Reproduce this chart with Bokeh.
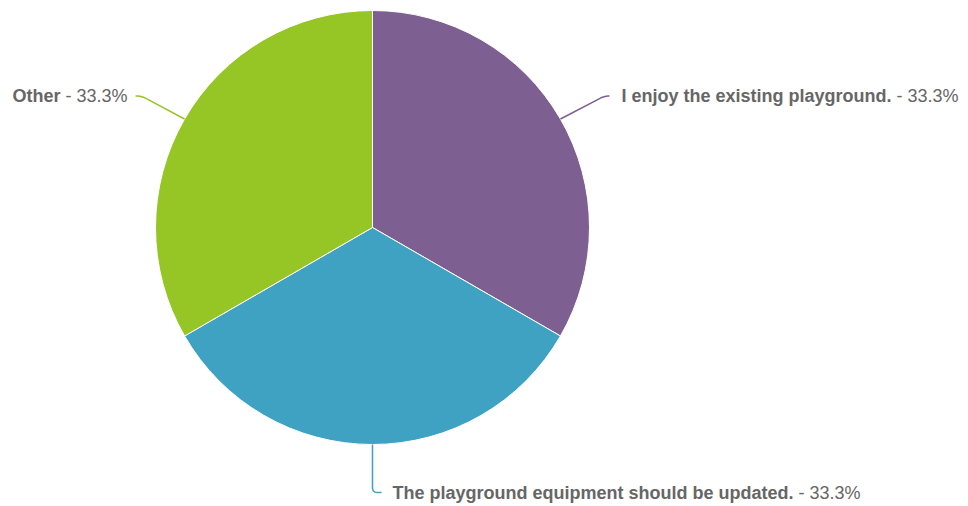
import numpy as np
from bokeh.plotting import figure
from bokeh.models import Range1d, ColumnDataSource
from bokeh.core.properties import value
from bokeh.embed import file_html
from bokeh.resources import INLINE

# ---- data ----
categories = ["I enjoy the existing playground.",
              "The playground equipment should be updated.",
              "Other"]
counts = [1, 1, 1]
colors = ["#7d5f92", "#3fa2c2", "#96c626"]

# ---- layout (page pixel coordinates, y measured downward) ----
W, H = 968, 506
def Y(img_y):
    return H - img_y

cx, cy, R = 372, 227, 217

p = figure(width=W, height=H, output_backend="svg", toolbar_location=None,
           x_range=Range1d(0, W), y_range=Range1d(0, H),
           min_border=0, outline_line_color=None)
p.axis.visible = False
p.grid.visible = False
p.background_fill_color = "white"
p.border_fill_color = "white"

total = float(sum(counts))
fracs = np.array(counts) / total
ends = np.cumsum(fracs)
starts = ends - fracs
start_ang = np.pi / 2 - 2 * np.pi * starts
end_ang = np.pi / 2 - 2 * np.pi * ends
mid_ang = (start_ang + end_ang) / 2
pcts = ["%.1f%%" % (f * 100) for f in fracs]

src = ColumnDataSource(dict(x=[cx] * 3, y=[Y(cy)] * 3, s=start_ang, e=end_ang, c=colors))
p.wedge(x="x", y="y", radius=R, start_angle="s", end_angle="e", direction="clock",
        fill_color="c", line_color="white", line_width=1, source=src)

# connectors: edge point -> corner -> end
corners = [(604, 95.5), (372, 492), (141, 95.5)]
tails = [(609, 95.5), (381, 492), (135, 95.5)]
xs_all, ys_all = [], []
for i in range(3):
    ex = cx + R * np.cos(mid_ang[i])
    ey = cy - R * np.sin(mid_ang[i])
    C = np.array(corners[i], float)
    T = np.array(tails[i], float)
    E = np.array([ex, ey])
    d = 5.0
    v1 = (C - E) / np.linalg.norm(C - E)
    v2 = (T - C) / np.linalg.norm(T - C)
    A = C - v1 * d
    B = C + v2 * d
    t = np.linspace(0, 1, 12)
    curve = ((1 - t)[:, None] ** 2) * A + (2 * (1 - t) * t)[:, None] * C + (t[:, None] ** 2) * B
    pts = np.vstack([E, curve, T])
    xs_all.append(list(pts[:, 0]))
    ys_all.append([Y(v) for v in pts[:, 1]])
p.multi_line(xs=xs_all, ys=ys_all, line_color=colors, line_width=1.5)

# labels (vertical centre of the text line)
bold_x = [621, 392, 12]
norm_x = [896, 798, 65]
mid_y = [95.5, 492, 95.5]
font = value("Liberation Sans")
for i in range(3):
    p.text(x=[bold_x[i]], y=[Y(mid_y[i])], text=[categories[i] if i < 2 else "Other"],
           text_font=font, text_font_size="18px", text_font_style="bold",
           text_color="#666666", text_align="left", text_baseline="middle")
    p.text(x=[norm_x[i]], y=[Y(mid_y[i])], text=["- " + pcts[i]],
           text_font=font, text_font_size="18px", text_font_style="normal",
           text_color="#666666", text_align="left", text_baseline="middle")

open("out.html", "w").write(file_html(p, INLINE))
